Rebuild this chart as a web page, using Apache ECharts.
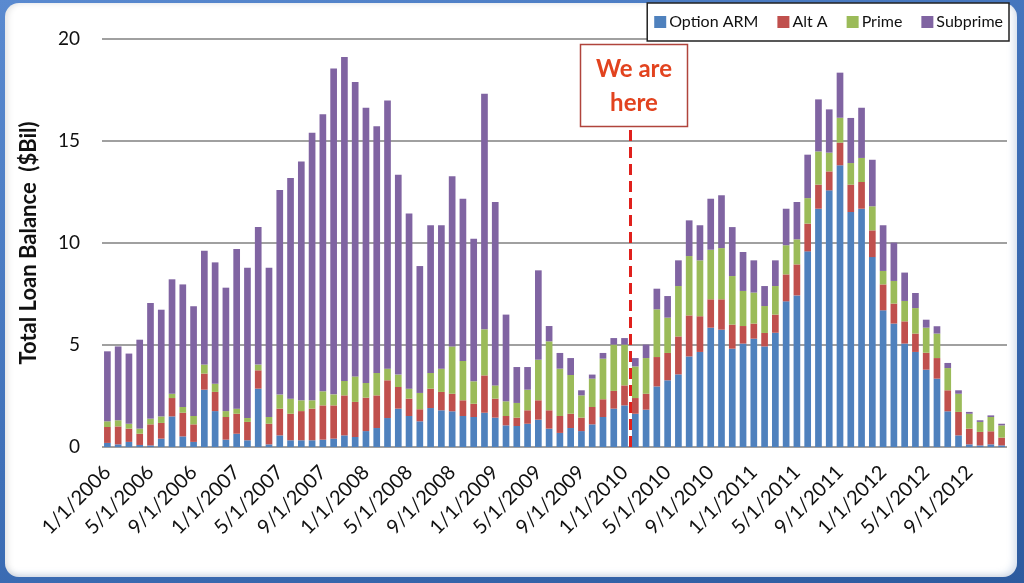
<!DOCTYPE html>
<html>
<head>
<meta charset="utf-8">
<script src="https://cdn.jsdelivr.net/npm/echarts@6/dist/echarts.min.js"></script>
<style>
  html, body { margin:0; padding:0; width:1024px; height:583px; overflow:hidden;
    background: linear-gradient(160deg, #5a8ad0 0%, #3f70b8 50%, #2d5b9f 100%); }
  #panel { position:absolute; left:5px; top:3px; width:1012px; height:574px; border-radius:14px;
    background:#ffffff; box-shadow: inset 3px 0 6px rgba(0,0,0,0.10), inset -4px -3px 6px rgba(120,150,200,0.25); }
  #chart { position:absolute; left:0; top:0; width:1024px; height:583px; }
</style>
</head>
<body>
<div id="panel"></div>
<div id="chart"></div>
<script>
const categories = [
  "1/1/2006","2/1/2006","3/1/2006","4/1/2006","5/1/2006","6/1/2006","7/1/2006","8/1/2006","9/1/2006","10/1/2006","11/1/2006","12/1/2006",
  "1/1/2007","2/1/2007","3/1/2007","4/1/2007","5/1/2007","6/1/2007","7/1/2007","8/1/2007","9/1/2007","10/1/2007","11/1/2007","12/1/2007",
  "1/1/2008","2/1/2008","3/1/2008","4/1/2008","5/1/2008","6/1/2008","7/1/2008","8/1/2008","9/1/2008","10/1/2008","11/1/2008","12/1/2008",
  "1/1/2009","2/1/2009","3/1/2009","4/1/2009","5/1/2009","6/1/2009","7/1/2009","8/1/2009","9/1/2009","10/1/2009","11/1/2009","12/1/2009",
  "1/1/2010","2/1/2010","3/1/2010","4/1/2010","5/1/2010","6/1/2010","7/1/2010","8/1/2010","9/1/2010","10/1/2010","11/1/2010","12/1/2010",
  "1/1/2011","2/1/2011","3/1/2011","4/1/2011","5/1/2011","6/1/2011","7/1/2011","8/1/2011","9/1/2011","10/1/2011","11/1/2011","12/1/2011",
  "1/1/2012","2/1/2012","3/1/2012","4/1/2012","5/1/2012","6/1/2012","7/1/2012","8/1/2012","9/1/2012","10/1/2012","11/1/2012","12/1/2012"
];
const optionARM = [
  0.2,0.13,0.25,0.1,0.08,0.41,1.5,0.52,0.25,2.81,
  1.76,0.36,0.65,0.33,2.86,0.13,0.57,0.33,0.33,0.33,
  0.36,0.41,0.57,0.49,0.78,0.93,1.42,1.88,1.52,1.26,
  1.91,1.8,1.75,1.52,1.47,1.68,1.44,1.06,1.03,1.14,
  1.34,0.9,0.69,0.93,0.78,1.11,1.47,1.88,2.04,1.63,
  1.83,2.97,3.27,3.56,4.44,4.66,5.85,5.75,4.82,5.07,
  5.31,4.93,5.6,7.14,7.43,9.59,11.68,12.58,13.81,11.52,
  11.68,9.31,6.7,6.05,5.07,4.66,3.79,3.35,1.75,0.57,
  0.13,0.08,0.13,0.08
];
const altA = [
  0.78,0.88,0.65,0.55,1.03,0.77,0.9,1.16,0.86,0.79,
  0.94,1.11,0.98,0.9,0.9,1.01,1.31,1.3,1.43,1.55,
  1.68,1.63,1.96,1.72,1.64,1.6,1.85,1.06,0.85,0.59,
  0.95,0.9,0.86,0.77,0.65,1.83,0.93,0.46,0.41,0.66,
  0.95,0.9,0.83,0.7,0.66,0.85,0.87,0.87,0.98,0.77,
  0.78,1.44,1.34,1.86,2.01,1.75,1.39,1.49,1.18,0.86,
  0.74,0.66,0.89,1.32,1.52,1.36,1.18,0.93,1.11,1.34,
  1.31,1.31,1.27,0.98,1.09,0.9,0.83,1.01,1.03,1.15,
  0.77,0.66,0.64,0.38
];
const prime = [
  0.28,0.3,0.24,0.25,0.28,0.32,0.21,0.28,0.41,0.44,
  0.4,0.29,0.25,0.19,0.28,0.33,0.69,0.74,0.53,0.41,
  0.69,0.54,0.71,1.25,0.72,1.1,0.57,0.61,0.49,0.8,
  0.77,1.14,2.32,1.93,1.1,2.26,0.65,0.72,0.72,1.01,
  1.99,3.38,2.32,1.9,1.09,1.39,1.99,2.27,2.0,1.55,
  1.75,2.34,1.73,2.47,2.91,2.74,2.43,2.51,2.38,1.72,
  1.52,1.32,1.4,1.43,1.23,1.25,1.63,0.92,1.22,1.06,
  1.18,1.18,0.66,1.11,1.0,1.25,1.23,1.2,1.09,0.89,
  0.73,0.49,0.7,0.6
];
const subprime = [
  3.43,3.62,3.44,4.36,5.67,5.23,5.61,6.01,5.38,5.58,
  5.95,6.05,7.83,7.37,6.74,7.32,10.03,10.82,11.71,13.12,
  13.58,15.97,15.88,14.43,13.49,12.09,13.14,9.8,8.58,6.22,
  7.24,7.03,8.34,7.95,6.99,11.55,8.99,4.25,1.76,1.11,
  4.38,0.75,0.77,0.83,0.25,0.2,0.28,0.32,0.32,0.41,
  0.66,1.01,1.06,1.26,1.75,1.72,2.5,2.59,2.4,1.91,
  1.58,0.98,1.26,1.79,1.83,2.13,2.55,2.12,2.21,2.21,
  2.46,2.28,2.24,1.88,1.39,0.74,0.39,0.36,0.25,0.17,
  0.09,0.08,0.08,0.08
];
const seriesNames = ["Option ARM", "Alt A", "Prime", "Subprime"];
const yTicks = [0, 5, 10, 15, 20];
const markerAfter = "1/1/2010";
const markerBefore = "2/1/2010";

const FONT = "Lato, 'Open Sans', sans-serif";
const chart = echarts.init(document.getElementById('chart'), null, {renderer: 'canvas'});

function barSeries(name, data) {
  return { name: name, type: 'bar', stack: 'total', data: data, barWidth: '62%' };
}

chart.setOption({
  animation: false,
  backgroundColor: 'transparent',
  color: ['#4f81bd', '#c0504d', '#9bbb59', '#8064a2'],
  textStyle: { fontFamily: FONT },
  legend: {
    data: seriesNames,
    right: 15, top: 3,
    orient: 'horizontal',
    icon: 'rect', itemWidth: 12, itemHeight: 12, itemGap: 19,
    padding: [11, 6, 11, 7],
    borderColor: '#222', borderWidth: 1.5, backgroundColor: '#ffffff',
    textStyle: { fontSize: 16, color: '#111', fontFamily: FONT, padding: [0, 0, 0, -2] }
  },
  grid: { left: 102, right: 17, top: 39, bottom: 136 },
  xAxis: {
    type: 'category', data: categories,
    axisLine: { show: false }, axisTick: { show: false },
    axisLabel: { interval: 3, rotate: 45, fontSize: 20, color: '#111', fontFamily: FONT, margin: 22 }
  },
  yAxis: {
    type: 'value', min: yTicks[0], max: yTicks[yTicks.length - 1], interval: 5,
    name: 'Total Loan Balance  ($Bil)', nameLocation: 'middle', nameGap: 62,
    nameTextStyle: { fontSize: 22, fontWeight: 'bold', color: '#111', fontFamily: FONT },
    axisLine: { show: false }, axisTick: { show: false },
    axisLabel: { fontSize: 19, color: '#111', margin: 22, fontFamily: FONT },
    splitLine: { show: true, lineStyle: { color: '#808080', width: 1.5 } }
  },
  series: [
    barSeries(seriesNames[0], optionARM),
    barSeries(seriesNames[1], altA),
    barSeries(seriesNames[2], prime),
    barSeries(seriesNames[3], subprime)
  ]
});

const xa = chart.convertToPixel({ xAxisIndex: 0 }, markerAfter);
const xb = chart.convertToPixel({ xAxisIndex: 0 }, markerBefore);
const lineX = Math.round((xa + xb) / 2) + 0.5;
const yBase = chart.convertToPixel({ yAxisIndex: 0 }, 0);

chart.setOption({
  graphic: [
    { type: 'line', z: 100,
      shape: { x1: lineX, y1: 130, x2: lineX, y2: yBase + 6 },
      style: { stroke: '#e0201c', lineWidth: 3, lineDash: [11, 6] } },
    { type: 'rect', z: 100,
      shape: { x: 580.5, y: 44.5, width: 107, height: 82 },
      style: { fill: '#ffffff', stroke: '#b0443c', lineWidth: 1.5 } },
    { type: 'text', z: 101, x: 634, y: 86,
      style: { text: 'We are\nhere', fill: '#e2431f', font: 'bold 24px ' + FONT,
               textAlign: 'center', textVerticalAlign: 'middle', lineHeight: 34 } }
  ]
});
</script>
</body>
</html>
